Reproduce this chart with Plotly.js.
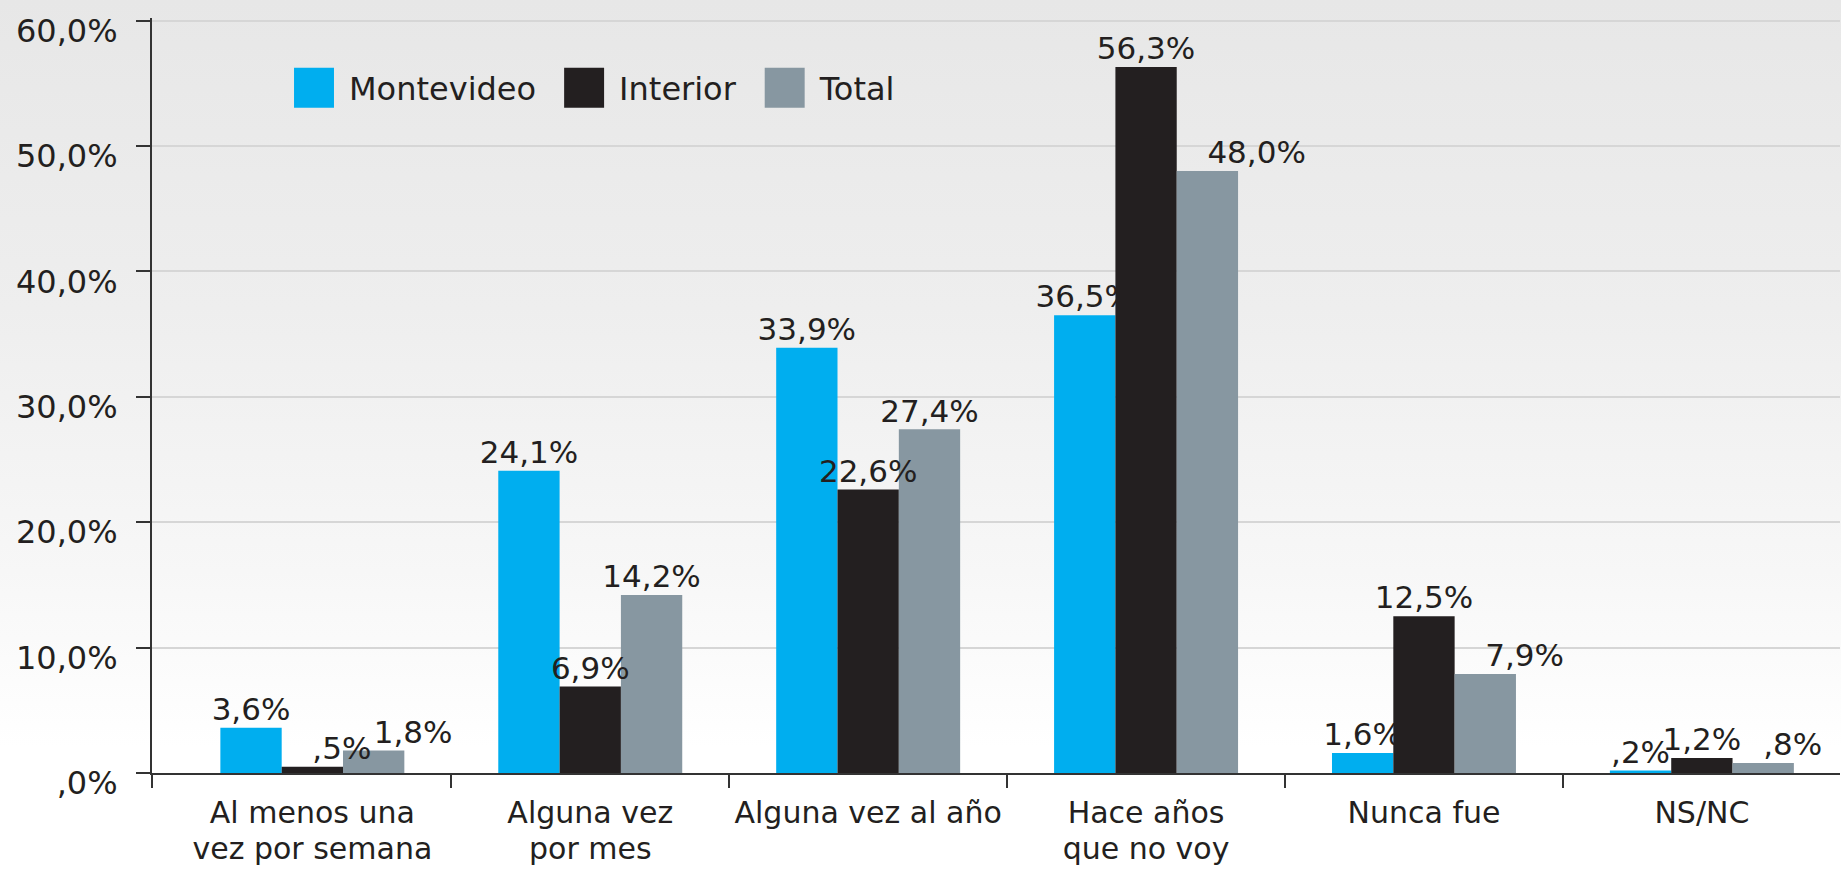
<!DOCTYPE html>
<html>
<head>
<meta charset="utf-8">
<script src="https://cdn.plot.ly/plotly-3.0.1.min.js"></script>
<style>
  html, body { margin: 0; padding: 0; }
  body { background: linear-gradient(to bottom, #e7e7e7 0%, #eeeeee 35%, #f7f7f7 65%, #ffffff 85%, #ffffff 100%); }
  #chart { width: 1841px; height: 879px; }
  .legend .legendpoints path { transform: translate(43px, 0px) scale(3.33); }
</style>
</head>
<body>
<div id="chart"></div>
<script>
const categories = ['Al menos una<br>vez por semana', 'Alguna vez<br>por mes', 'Alguna vez al año', 'Hace años<br>que no voy', 'Nunca fue', 'NS/NC'];
const seriesNames = ['Montevideo', 'Interior', 'Total'];
const montevideo = [3.6, 24.1, 33.9, 36.5, 1.6, 0.2];
const interior = [0.5, 6.9, 22.6, 56.3, 12.5, 1.2];
const total = [1.8, 14.2, 27.4, 48.0, 7.9, 0.8];
const yTicks = [0, 10, 20, 30, 40, 50, 60];

// label placement styles (per series, per category)
const labelPositions = [
  ['top center', 'top center', 'top center', 'top center', 'top center', 'top center'],
  ['top right', 'top center', 'top center', 'top center', 'top center', 'top center'],
  ['top right', 'top center', 'top center', 'top right', 'top right', 'top right']
];

const colors = ['#00aeef', '#231f20', '#8797a1'];
const FONT = 'DejaVu Sans, Open Sans, sans-serif';
const fmt = v => v.toFixed(1).replace('.', ',').replace(/^0(?=,)/, '') + '%';
// category labels drawn at 30px glyph size with slightly tighter line spacing
const styleLabel = c => c.split('<br>').map(l => '<span style="font-size:30px">' + l + '</span>').join('<br>');

const xRange = [-0.577, 5.497];
const boundaries = [xRange[0]].concat(categories.slice(1).map((c, i) => i + 0.5));
const GAP = 0.338;

const series = [montevideo, interior, total];
const data = [];
series.forEach((vals, k) => {
  data.push({
    type: 'bar',
    name: seriesNames[k],
    x: categories,
    y: vals,
    offsetgroup: String(k),
    marker: { color: colors[k], line: { width: 0 } },
    hoverinfo: 'skip'
  });
});
series.forEach((vals, k) => {
  data.push({
    type: 'scatter',
    mode: 'text',
    name: seriesNames[k] + ' labels',
    x: categories,
    y: vals,
    offsetgroup: String(k),
    text: vals.map(fmt),
    textposition: labelPositions[k],
    textfont: { family: FONT, size: 31, color: '#231f20' },
    cliponaxis: false,
    showlegend: false,
    hoverinfo: 'skip'
  });
});
// empty helper trace so the boundary-tick axis is drawn
data.push({ type: 'scatter', x: [], y: [], xaxis: 'x2', yaxis: 'y', showlegend: false, hoverinfo: 'skip' });

const layout = {
  width: 1841,
  height: 879,
  margin: { l: 152, r: 1, t: 18, b: 106, pad: 0 },
  paper_bgcolor: 'rgba(0,0,0,0)',
  plot_bgcolor: 'rgba(0,0,0,0)',
  font: { family: FONT, color: '#231f20' },
  barmode: 'group',
  bargap: GAP,
  bargroupgap: 0,
  scattermode: 'group',
  scattergap: GAP,
  showlegend: true,
  legend: {
    orientation: 'h',
    x: 0.0705,
    xanchor: 'left',
    y: 0.9073,
    yanchor: 'middle',
    font: { family: FONT, size: 32, color: '#231f20' },
    bgcolor: 'rgba(0,0,0,0)',
    itemwidth: 68,
    traceorder: 'normal'
  },
  xaxis: {
    type: 'category',
    range: xRange,
    tickmode: 'array',
    tickvals: categories,
    ticktext: categories.map(styleLabel),
    ticks: '',
    showline: true,
    linecolor: '#333333',
    linewidth: 2,
    showgrid: false,
    zeroline: false,
    tickfont: { family: FONT, size: 27, color: '#231f20' },
    ticklabelstandoff: 16,
    fixedrange: true
  },
  xaxis2: {
    type: 'linear',
    overlaying: 'x',
    anchor: 'y',
    side: 'bottom',
    range: xRange,
    tickmode: 'array',
    tickvals: boundaries,
    ticks: 'outside',
    ticklen: 14,
    tickwidth: 2,
    tickcolor: '#333333',
    showticklabels: false,
    showgrid: false,
    zeroline: false,
    showline: false,
    fixedrange: true
  },
  yaxis: {
    range: [0, 60.2],
    tickmode: 'array',
    tickvals: yTicks,
    ticktext: yTicks.map(fmt),
    ticks: 'outside',
    ticklen: 14,
    tickwidth: 2,
    tickcolor: '#333333',
    showline: true,
    linecolor: '#333333',
    linewidth: 2,
    showgrid: true,
    gridcolor: '#d6d6d6',
    gridwidth: 2,
    zeroline: false,
    tickfont: { family: FONT, size: 32, color: '#231f20' },
    ticklabelstandoff: 12,
    ticklabelshift: 10,
    fixedrange: true
  }
};

Plotly.newPlot('chart', data, layout, { displayModeBar: false, staticPlot: true });
</script>
</body>
</html>
